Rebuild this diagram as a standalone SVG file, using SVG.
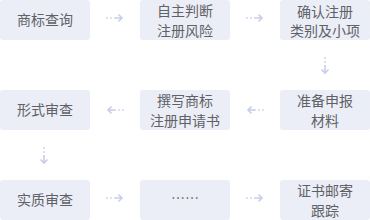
<svg xmlns="http://www.w3.org/2000/svg" width="370" height="220" viewBox="0 0 370 220">
<style>
.box{fill:#eceef7;}
.t{font-family:"Noto Sans CJK SC","Noto Sans",sans-serif;font-size:14px;fill:#5f6166;text-anchor:middle;}
.ln{stroke:#c8cde9;stroke-width:1.6;fill:none;}
.dot{stroke:#d4d8ee;stroke-width:1.6;stroke-dasharray:2 2;fill:none;}
</style>
<rect width="370" height="220" fill="#ffffff"/>
<g id="n1"><rect class="box" x="0" y="0" width="90" height="40" rx="3"/><text class="t" x="45" y="25">商标查询</text></g>
<g id="n2"><rect class="box" x="140" y="0" width="90" height="40" rx="3"/><text class="t" x="185" y="16">自主判断</text><text class="t" x="185" y="36">注册风险</text></g>
<g id="n3"><rect class="box" x="280" y="0" width="90" height="40" rx="3"/><text class="t" x="325" y="17">确认注册</text><text class="t" x="325" y="36">类别及小项</text></g>
<g id="n4"><rect class="box" x="280" y="90" width="90" height="40" rx="3"/><text class="t" x="325" y="106">准备申报</text><text class="t" x="325" y="126">材料</text></g>
<g id="n5"><rect class="box" x="140" y="90" width="90" height="40" rx="3"/><text class="t" x="185" y="106">撰写商标</text><text class="t" x="185" y="126">注册申请书</text></g>
<g id="n6"><rect class="box" x="0" y="90" width="90" height="40" rx="3"/><text class="t" x="45" y="115">形式审查</text></g>
<g id="n7"><rect class="box" x="0" y="180" width="90" height="40" rx="3"/><text class="t" x="45" y="205">实质审查</text></g>
<g id="n8"><rect class="box" x="140" y="180" width="90" height="40" rx="3"/><text class="t" x="185" y="203">……</text></g>
<g id="n9"><rect class="box" x="280" y="180" width="90" height="40" rx="3"/><text class="t" x="325" y="196">证书邮寄</text><text class="t" x="325" y="216">跟踪</text></g>
<g id="connectors">
<!-- row1 -->
<path class="dot" d="M106 18 H115"/><path class="ln" d="M115 18 H122 M118.5 14.5 L122 18 L118.5 21.5"/>
<path class="dot" d="M246 18 H255"/><path class="ln" d="M255 18 H262 M258.5 14.5 L262 18 L258.5 21.5"/>
<!-- down right -->
<path class="dot" d="M325 57 V65"/><path class="ln" d="M325 65 V73 M321.5 69.5 L325 73 L328.5 69.5"/>
<!-- row2 -->
<path class="dot" d="M264 110 H255"/><path class="ln" d="M255 110 H248 M251.5 106.5 L248 110 L251.5 113.5"/>
<path class="dot" d="M124 110 H115"/><path class="ln" d="M115 110 H108 M111.5 106.5 L108 110 L111.5 113.5"/>
<!-- down left -->
<path class="dot" d="M44 147 V155"/><path class="ln" d="M44 155 V163 M40.5 159.5 L44 163 L47.5 159.5"/>
<!-- row3 -->
<path class="dot" d="M106 198 H115"/><path class="ln" d="M115 198 H122 M118.5 194.5 L122 198 L118.5 201.5"/>
<path class="dot" d="M246 198 H255"/><path class="ln" d="M255 198 H262 M258.5 194.5 L262 198 L258.5 201.5"/>
</g>
</svg>
